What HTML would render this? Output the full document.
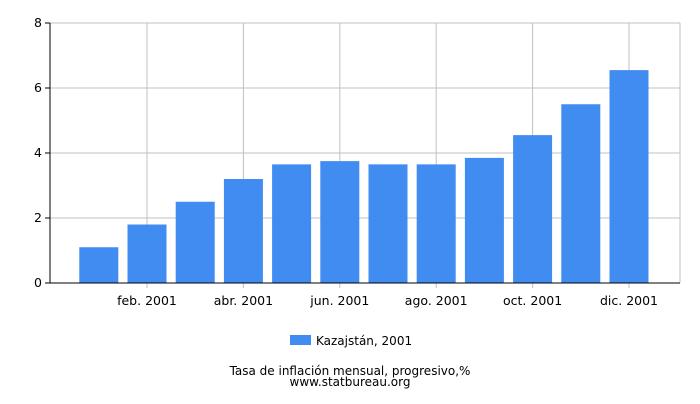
<!DOCTYPE html>
<html><head><meta charset="utf-8"><style>
body{margin:0;background:#fff;font-family:"DejaVu Sans","Liberation Sans",sans-serif;}
</style></head><body>
<svg width="700" height="400" xmlns="http://www.w3.org/2000/svg">
<g id="grid"></g>
<g id="bars"></g>
<g id="axes"></g>
<g>
<rect x="290" y="335" width="21" height="10" fill="#418cf0"/>
<text x="316" y="345" font-size="12" fill="#000">Kazajstán, 2001</text>
</g>
<text x="350" y="375" font-size="12" text-anchor="middle">Tasa de inflación mensual, progresivo,%</text>
<text x="350" y="386" font-size="12" text-anchor="middle">www.statbureau.org</text>
</svg>
<script>
const categories=["ene. 2001","feb. 2001","mar. 2001","abr. 2001","may. 2001","jun. 2001","jul. 2001","ago. 2001","sep. 2001","oct. 2001","nov. 2001","dic. 2001"];
const values=[1.1,1.8,2.5,3.2,3.65,3.75,3.65,3.65,3.85,4.55,5.5,6.55];
const yTicks=[0,2,4,6,8];
const NS="http://www.w3.org/2000/svg";
const L=50,R=680,T=23,B=283,band=48.2,first=98.8;
const y=v=>B-(v/8)*(B-T);
const xc=i=>first+band*i;
function mk(p,tag,a){const e=document.createElementNS(NS,tag);for(const k in a)e.setAttribute(k,a[k]);p.appendChild(e);return e;}
const grid=document.getElementById('grid'),bars=document.getElementById('bars'),axes=document.getElementById('axes');
yTicks.forEach(t=>{
 const ln=mk(grid,'line',{x1:L,x2:R,y1:y(t),y2:y(t),stroke:'#c0c0c0','stroke-width':1});
 
 
 const tk=mk(axes,'line',{x1:L-5,x2:L,y1:y(t),y2:y(t),stroke:'#000'});
 
 
 const tx=mk(axes,'text',{x:L-8,y:y(t)+4,'font-size':12.5,'text-anchor':'end'});
 tx.textContent=t;
 
 
});
mk(grid,'line',{x1:R,x2:R,y1:T,y2:B,stroke:'#c0c0c0'});
categories.forEach((c,i)=>{
 if(i%2===1){
  const g=mk(grid,'line',{x1:xc(i),x2:xc(i),y1:T,y2:B+5,stroke:'#c0c0c0'});
  
  
  const tx=mk(axes,'text',{x:xc(i),y:B+22,'font-size':12.5,'text-anchor':'middle'});
  tx.textContent=c;
  
  
 }
 const r=mk(bars,'rect',{x:xc(i)-19.5,y:y(values[i]),width:39,height:B-y(values[i]),fill:'#418cf0'});
 
 
});
mk(axes,'line',{x1:L,x2:L,y1:T,y2:B,stroke:'#000'});
mk(axes,'line',{x1:L,x2:R,y1:B,y2:B,stroke:'#000'});
</script>
</body></html>
